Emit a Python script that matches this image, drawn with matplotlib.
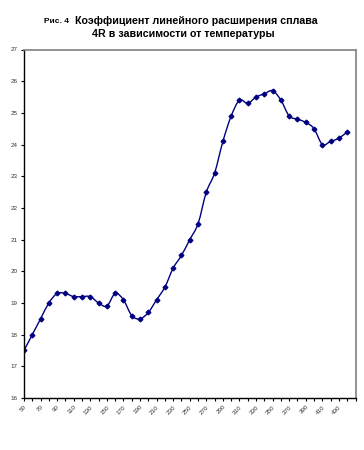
import matplotlib
matplotlib.use("Agg")
import matplotlib.pyplot as plt
import matplotlib.transforms as mtransforms
import numpy as np
from matplotlib.path import Path
from matplotlib.patches import PathPatch

plt.rcParams['font.family'] = ['Liberation Sans', 'DejaVu Sans']

temperatures = list(range(50, 451, 10))  # categories 50..450
values = [17.5, 18.0, 18.5, 19.0, 19.3, 19.3, 19.2, 19.2, 19.2, 19.0,
          18.9, 19.3, 19.1, 18.6, 18.5, 18.7, 19.1, 19.5, 20.1, 20.5,
          21.0, 21.5, 22.5, 23.1, 24.1, 24.9, 25.4, 25.3, 25.5, 25.6,
          25.7, 25.4, 24.9, 24.8, 24.7, 24.5, 24.0, 24.1, 24.2, 24.4]
tick_labels = [str(t) for t in range(50, 431, 20)]
y_ticks = list(range(16, 28))

fig = plt.figure(figsize=(3.64, 4.5), dpi=100)
ax = fig.add_axes([24/364, 1-398/450, (355.5-24)/364, (398-49.5)/450])

x = np.arange(len(values), dtype=float)
y = np.array(values, dtype=float)

# smoothed line (cardinal / Catmull-Rom bezier like Excel)
verts = [(x[0], y[0])]
codes = [Path.MOVETO]
n = len(x)
t = 1/6
for i in range(n - 1):
    p0 = (x[max(i-1, 0)], y[max(i-1, 0)])
    p1 = (x[i], y[i])
    p2 = (x[i+1], y[i+1])
    p3 = (x[min(i+2, n-1)], y[min(i+2, n-1)])
    c1 = (p1[0] + (p2[0]-p0[0])*t, p1[1] + (p2[1]-p0[1])*t)
    c2 = (p2[0] - (p3[0]-p1[0])*t, p2[1] - (p3[1]-p1[1])*t)
    verts += [c1, c2, p2]
    codes += [Path.CURVE4]*3
ax.add_patch(PathPatch(Path(verts, codes), facecolor='none', edgecolor='#000080', lw=1.0))
ax.plot(x, y, linestyle='none', marker='D', markersize=2.4, color='#000080')

ax.set_xlim(0, len(temperatures)-1)
ax.set_ylim(16, 27)
ax.set_yticks(y_ticks)
ax.set_yticklabels([str(v) for v in y_ticks], fontsize=4.5, color='#333333')
ax.set_xticks(np.arange(len(temperatures)))
labels = [str(t) if (i % 2 == 0 and str(t) in tick_labels) else '' for i, t in enumerate(temperatures)]
ax.set_xticklabels(labels, fontsize=4.5, color='#333333', rotation=45, ha='right', rotation_mode='anchor')
offset = mtransforms.ScaledTranslation(-4/100, -4/100, fig.dpi_scale_trans)
for lab in ax.get_xticklabels():
    lab.set_transform(lab.get_transform() + offset)
ax.tick_params(axis='both', length=2.5, width=0.8, pad=2, color='black')

for s in ['left', 'bottom']:
    ax.spines[s].set_color('black')
    ax.spines[s].set_linewidth(1.0)
for s in ['top', 'right']:
    ax.spines[s].set_color('#808080')
    ax.spines[s].set_linewidth(1.2)

fig.text(196/364, 1-21/450, 'Коэффициент линейного расширения сплава', fontsize=7.7,
         fontweight='bold', ha='center', va='center')
fig.text(183/364, 1-34/450, '4R в зависимости от температуры', fontsize=7.7,
         fontweight='bold', ha='center', va='center')
fig.text(44/364, 1-21.5/450, 'Рис. 4', fontsize=6, fontweight='bold', ha='left', va='center')

fig.savefig('out.png', dpi=100)
